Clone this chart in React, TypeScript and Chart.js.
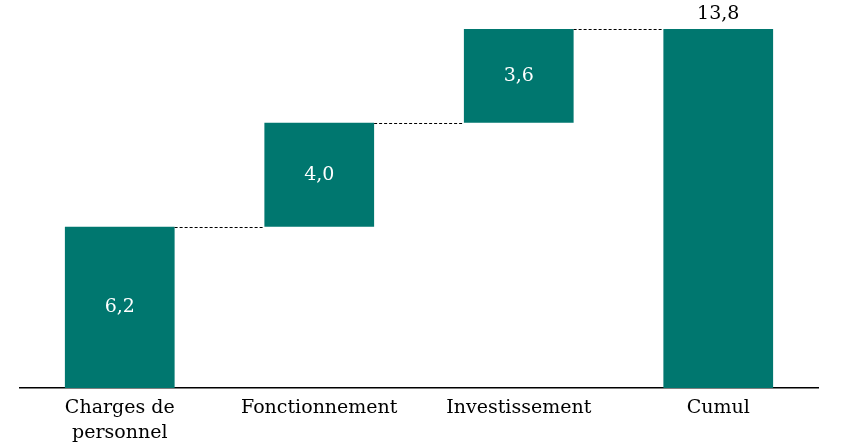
import React, { useEffect, useRef } from "react";
import { Chart, registerables } from "chart.js";

Chart.register(...registerables);

const categories: (string | string[])[] = [["Charges de", "personnel"], "Fonctionnement", "Investissement", "Cumul"];
const increments: number[] = [6.2, 4.0, 3.6];
const total: number = 13.8;
const valueLabels: string[] = ["6,2", "4,0", "3,6", "13,8"];

const TEAL = "#00776F";
const FONT = "'DejaVu Serif', serif";

export default function App() {
  const ref = useRef<HTMLCanvasElement | null>(null);

  useEffect(() => {
    if (!ref.current) return;
    const ranges: [number, number][] = [];
    let acc = 0;
    for (const v of increments) {
      ranges.push([acc, acc + v]);
      acc += v;
    }
    ranges.push([0, total]);

    const overlay = {
      id: "overlay",
      afterDatasetsDraw(chart: any) {
        const ctx = chart.ctx;
        const meta = chart.getDatasetMeta(0);
        const y = chart.scales.y;
        ctx.save();
        ctx.strokeStyle = "#000";
        ctx.lineWidth = 1;
        ctx.setLineDash([3, 2]);
        for (let i = 0; i < ranges.length - 1; i++) {
          const a = meta.data[i];
          const b = meta.data[i + 1];
          const yy = Math.round(y.getPixelForValue(ranges[i][1])) + 0.5;
          ctx.beginPath();
          ctx.moveTo(a.x + a.width / 2, yy);
          ctx.lineTo(b.x - b.width / 2, yy);
          ctx.stroke();
        }
        ctx.setLineDash([]);
        ctx.font = "19px " + FONT;
        ctx.textAlign = "center";
        ctx.textBaseline = "middle";
        for (let i = 0; i < ranges.length; i++) {
          const el = meta.data[i];
          if (i === ranges.length - 1) {
            ctx.fillStyle = "#000";
            ctx.fillText(valueLabels[i], el.x, y.getPixelForValue(ranges[i][1]) - 15);
          } else {
            ctx.fillStyle = "#fff";
            const mid = (ranges[i][0] + ranges[i][1]) / 2;
            ctx.fillText(valueLabels[i], el.x, y.getPixelForValue(mid));
          }
        }
        ctx.restore();
      },
    };

    const chart = new Chart(ref.current, {
      type: "bar",
      data: {
        labels: categories,
        datasets: [
          {
            data: ranges as any,
            backgroundColor: TEAL,
            borderWidth: 0,
            barPercentage: 0.55,
            categoryPercentage: 1,
          },
        ],
      },
      options: {
        animation: false,
        responsive: false,
        maintainAspectRatio: false,
        layout: { padding: { left: 20, right: 33, top: 29, bottom: 0 } },
        plugins: { legend: { display: false }, tooltip: { enabled: false } },
        scales: {
          x: {
            grid: { display: false, drawTicks: false },
            border: { display: true, color: "#000", width: 1.5 },
            ticks: {
              color: "#000",
              padding: 8,
              font: { family: FONT, size: 19, lineHeight: 1.3 },
              maxRotation: 0,
              autoSkip: false,
            },
            afterFit(scale: any) {
              scale.height = 60;
            },
          },
          y: {
            display: false,
            min: 0,
            max: total,
          },
        },
      },
      plugins: [overlay],
    });
    return () => chart.destroy();
  }, []);

  return (
    <div style={{ position: "fixed", left: 0, top: 0, width: 851, height: 448, background: "#fff" }}>
      <canvas ref={ref} width={851} height={448} />
    </div>
  );
}
